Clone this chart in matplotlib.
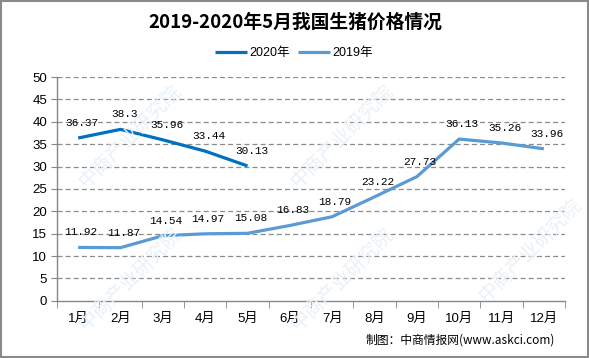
import matplotlib
matplotlib.use('Agg')
import matplotlib.pyplot as plt
from matplotlib.patches import Rectangle

plt.rcParams['font.family'] = ['Liberation Sans', 'Noto Sans CJK SC']

# data
months = ['1月', '2月', '3月', '4月', '5月', '6月', '7月', '8月', '9月', '10月', '11月', '12月']
price_2020 = [36.37, 38.3, 35.96, 33.44, 30.13]
price_2019 = [11.92, 11.87, 14.54, 14.97, 15.08, 16.83, 18.79, 23.22, 27.73, 36.13, 35.26, 33.96]
label_2020 = ['36.37', '38.3', '35.96', '33.44', '30.13']
label_2019 = ['11.92', '11.87', '14.54', '14.97', '15.08', '16.83', '18.79',
              '23.22', '27.73', '36.13', '35.26', '33.96']

c2020 = '#0070C0'
c2019 = '#5B9BD5'

fig = plt.figure(figsize=(5.89, 3.58), dpi=100)
ax = fig.add_axes([57 / 589, 1 - 300.8 / 358, 508 / 589, 223.8 / 358])

# faint watermarks
for wx, wy in [(0.22, 0.62), (0.58, 0.62), (0.22, 0.22), (0.58, 0.22), (0.90, 0.30)]:
    fig.text(wx, wy, '中商产业研究院', rotation=45, fontsize=14, color='#e8f1f8',
             family=['Noto Sans CJK SC'], ha='center', va='center', zorder=0)

x19 = list(range(len(price_2019)))
x20 = list(range(len(price_2020)))
ax.plot(x20, price_2020, color=c2020, lw=2.3, label='2020年', solid_capstyle='butt', zorder=3)
ax.plot(x19, price_2019, color=c2019, lw=2.3, label='2019年', solid_capstyle='butt', zorder=3)

mono = ['Liberation Mono']
for i, v in enumerate(price_2020):
    ax.annotate(label_2020[i], (i, v), xytext=(4, 15), textcoords='offset pixels',
                ha='center', va='center', fontsize=8, family=mono, color='black', zorder=4)
for i, v in enumerate(price_2019):
    ax.annotate(label_2019[i], (i, v), xytext=(3, 15), textcoords='offset pixels',
                ha='center', va='center', fontsize=8, family=mono, color='black', zorder=4)

ax.set_xlim(-0.5, 11.5)
ax.set_ylim(0, 50)
ax.set_yticks(range(0, 51, 5))
ax.set_xticks(x19)
ax.set_xticklabels(months)
ax.set_xticks([i - 0.5 for i in range(13)], minor=True)
ax.tick_params(axis='x', which='major', length=0, pad=9, labelsize=9.5)
ax.tick_params(axis='x', which='minor', length=5, color='#868686')
ax.tick_params(axis='y', length=4, color='#868686', labelsize=9.5, pad=3)
for yv in range(5, 51, 5):
    ax.axhline(yv, color='#8c8c8c', lw=0.9, ls=(0, (4, 2.5)), zorder=1)

for s in ['top', 'right']:
    ax.spines[s].set_visible(False)
for s in ['left', 'bottom']:
    ax.spines[s].set_color('#868686')
    ax.spines[s].set_linewidth(1)
ax.patch.set_alpha(0)

fig.text(295 / 589, 1 - 22 / 358, '2019-2020年5月我国生猪价格情况', ha='center', va='center',
         fontsize=13.5, fontweight='bold', family=['Noto Sans CJK SC'])

fig.legend(loc='center', bbox_to_anchor=(294 / 589, 1 - 53 / 358), ncol=2, frameon=False,
           fontsize=9, handlelength=2.6, handletextpad=0.2, columnspacing=0.6)

fig.text(555 / 589, 1 - 340 / 358, '制图：中商情报网(www.askci.com)', ha='right', va='center',
         fontsize=8.5, family=['Noto Sans CJK SC'])

fig.patches.append(Rectangle((0.001, 0.002), 0.997, 0.995, transform=fig.transFigure,
                             fill=False, edgecolor='#8a8a8a', lw=1.5))

fig.savefig('out.png', dpi=100)
